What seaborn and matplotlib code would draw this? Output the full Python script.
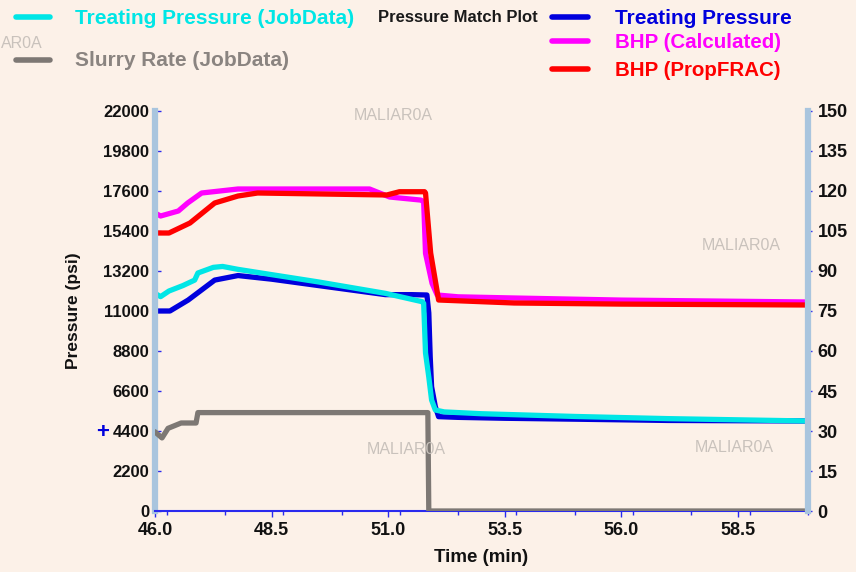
import numpy as np
import pandas as pd
import matplotlib
matplotlib.use("Agg")
import matplotlib.pyplot as plt
from matplotlib.ticker import MultipleLocator
from matplotlib.lines import Line2D
import seaborn as sns

# ---------------- data ----------------
tp_time = [46.0, 46.32, 46.71, 47.28, 47.78, 48.5, 49.5, 50.94, 51.5, 51.83, 51.87, 51.90, 51.93, 52.01, 52.08, 52.5, 53.5, 55.0, 57.0, 60.0]
tp_psi  = [11000, 11000, 11600, 12700, 12950, 12750, 12400, 11900, 11900, 11880, 10890, 8490, 6840, 5740, 5190, 5150, 5100, 5050, 4980, 4950]

tpj_time = [46.0, 46.12, 46.3, 46.6, 46.85, 46.92, 47.25, 47.45, 47.78, 48.5, 49.5, 50.94, 51.73, 51.76, 51.80, 51.87, 51.93, 52.01, 52.2, 53.0, 55.0, 57.0, 60.0]
tpj_psi  = [11970, 11790, 12100, 12400, 12700, 13090, 13400, 13450, 13290, 13000, 12600, 11970, 11510, 11420, 8690, 7370, 6105, 5555, 5450, 5350, 5200, 5080, 4950]

bhpc_time = [46.0, 46.12, 46.5, 46.7, 47.0, 47.78, 50.6, 51.03, 51.70, 51.76, 51.80, 51.94, 52.05, 52.5, 53.7, 56.0, 60.0]
bhpc_psi  = [16390, 16225, 16500, 16940, 17490, 17710, 17710, 17270, 17100, 17010, 14170, 12520, 11880, 11780, 11715, 11600, 11495]

bhpp_time = [46.0, 46.3, 46.75, 47.28, 47.78, 48.2, 50.97, 51.24, 51.78, 51.80, 51.91, 52.08, 53.7, 56.0, 60.0]
bhpp_psi  = [15290, 15290, 15840, 16940, 17325, 17490, 17380, 17560, 17560, 17490, 14190, 11605, 11440, 11380, 11330]

rate_time = [46.0, 46.15, 46.28, 46.56, 46.88, 46.92, 51.85, 51.87, 60.0]
rate_bpm  = [29.7, 27.4, 31.0, 33.0, 33.0, 36.9, 36.9, 0.0, 0.0]

x_ticks = [46.0, 48.5, 51.0, 53.5, 56.0, 58.5]
y_left_ticks = [0, 2200, 4400, 6600, 8800, 11000, 13200, 15400, 17600, 19800, 22000]
y_right_ticks = [0, 15, 30, 45, 60, 75, 90, 105, 120, 135, 150]

# ---------------- style ----------------
BG = "#fcf1e8"
C_TP = "#0000dd"
C_TPJ = "#00e6e6"
C_BHPC = "#ff00ff"
C_BHPP = "#ff0000"
C_RATE = "#7d7874"
SPINE = "#a9c5de"
TICKC = "#2a2aee"

sns.set_theme(style="white")
NARROW = ["Liberation Sans Narrow", "Liberation Sans", "DejaVu Sans"]
REG = ["Liberation Sans", "DejaVu Sans"]
plt.rcParams["font.family"] = NARROW

W, H = 856, 572
fig = plt.figure(figsize=(W / 100, H / 100), dpi=100, facecolor=BG)
L, R, T, B = 155, 808, 111, 511
ax = fig.add_axes([L / W, 1 - B / H, (R - L) / W, (B - T) / H])
ax.set_facecolor(BG)
ax2 = ax.twinx()

def px(x, y):
    return x / W, 1 - y / H

lw = 3.8
df_tp = pd.DataFrame({"t": tp_time, "v": tp_psi})
df_tpj = pd.DataFrame({"t": tpj_time, "v": tpj_psi})
df_c = pd.DataFrame({"t": bhpc_time, "v": bhpc_psi})
df_p = pd.DataFrame({"t": bhpp_time, "v": bhpp_psi})
df_r = pd.DataFrame({"t": rate_time, "v": rate_bpm})

sns.lineplot(data=df_c, x="t", y="v", ax=ax, color=C_BHPC, lw=lw, estimator=None, sort=False)
sns.lineplot(data=df_p, x="t", y="v", ax=ax, color=C_BHPP, lw=lw, estimator=None, sort=False)
sns.lineplot(data=df_tp, x="t", y="v", ax=ax, color=C_TP, lw=lw, estimator=None, sort=False)
sns.lineplot(data=df_tpj, x="t", y="v", ax=ax, color=C_TPJ, lw=lw, estimator=None, sort=False)
sns.lineplot(data=df_r, x="t", y="v", ax=ax2, color=C_RATE, lw=lw, estimator=None, sort=False)

ax.set_xlim(46.0, 60.0)
ax.set_ylim(0, 22000)
ax2.set_ylim(0, 150)
ax.set_xticks(x_ticks)
ax.set_xticklabels([f"{v:.1f}" for v in x_ticks])
ax.xaxis.set_minor_locator(MultipleLocator(1.25))
ax.set_yticks(y_left_ticks)
ax.set_yticklabels([str(v) for v in y_left_ticks])
ax2.set_yticks(y_right_ticks)
ax2.set_yticklabels([str(v) for v in y_right_ticks])

ax.set_xlabel("Time (min)", fontsize=13.5, fontweight="bold", family=NARROW, color="#111111", labelpad=7)
ax.set_ylabel("Pressure (psi)", fontsize=12.5, fontweight="bold", family=REG, color="#111111", labelpad=16)
ax2.set_ylabel("")

for a in (ax, ax2):
    for s in a.spines.values():
        s.set_visible(False)
ax.spines["left"].set_visible(True)
ax.spines["left"].set_color(SPINE)
ax.spines["left"].set_linewidth(4.5)
ax.spines["bottom"].set_visible(True)
ax.spines["bottom"].set_color(TICKC)
ax.spines["bottom"].set_linewidth(1.5)
ax2.spines["right"].set_visible(True)
ax2.spines["right"].set_color(SPINE)
ax2.spines["right"].set_linewidth(4.5)

ax.tick_params(axis="y", which="both", direction="in", length=4, width=1, color=TICKC,
               labelsize=12, labelcolor="#111111", pad=4, left=True)
ax.tick_params(axis="x", which="major", direction="out", length=4, width=1, color=TICKC,
               labelsize=13, labelcolor="#111111", pad=4, bottom=True)
ax.tick_params(axis="x", which="minor", direction="out", length=3, width=1, color=TICKC, bottom=True)
ax2.tick_params(axis="y", direction="out", length=3, width=1, color=TICKC,
                labelsize=13, labelcolor="#111111", pad=4, right=True)
for lab in ax.get_xticklabels() + ax.get_yticklabels() + ax2.get_yticklabels():
    lab.set_fontweight("bold")
ax.grid(False)
ax2.grid(False)

# ---------------- legends (header) ----------------
def handle(x0, x1, y, color):
    fig.add_artist(Line2D([x0 / W, x1 / W], [1 - y / H, 1 - y / H], color=color, lw=4.0,
                          solid_capstyle="round", transform=fig.transFigure))

handle(16, 50, 17, C_TPJ)
fig.text(*px(75, 19), "Treating Pressure (JobData)", color=C_TPJ, fontsize=15, fontweight="bold",
         family=REG, va="center", ha="left")
handle(16, 50, 60, C_RATE)
fig.text(*px(75, 60), "Slurry Rate (JobData)", color="#8a8480", fontsize=15, fontweight="bold",
         family=REG, va="center", ha="left")
fig.text(*px(378, 17), "Pressure Match Plot", color="#1a1a1a", fontsize=12, fontweight="bold",
         family=REG, va="center", ha="left")
handle(552, 588, 17, C_TP)
fig.text(*px(615, 18), "Treating Pressure", color=C_TP, fontsize=15, fontweight="bold",
         family=REG, va="center", ha="left")
handle(552, 588, 41, C_BHPC)
fig.text(*px(615, 43), "BHP (Calculated)", color=C_BHPC, fontsize=14.8, fontweight="bold",
         family=REG, va="center", ha="left")
handle(552, 588, 69, C_BHPP)
fig.text(*px(615, 70), "BHP (PropFRAC)", color=C_BHPP, fontsize=14.8, fontweight="bold",
         family=REG, va="center", ha="left")

# watermarks
WM = "#c9c2bc"
for (x, y) in [(393, 116), (741, 246), (406, 449), (734, 447)]:
    fig.text(*px(x, y), "MALIAR0A", color=WM, fontsize=11.5, family=NARROW, ha="center", va="center")
fig.text(*px(22, 43), "AR0A", color=WM, fontsize=11.5, family=NARROW, ha="center", va="center")

# blue plus marker near 4400
fig.text(*px(103, 433), "+", color=C_TP, fontsize=16, fontweight="bold", family=REG, ha="center", va="center")

fig.savefig("out.png", dpi=100, facecolor=BG)
